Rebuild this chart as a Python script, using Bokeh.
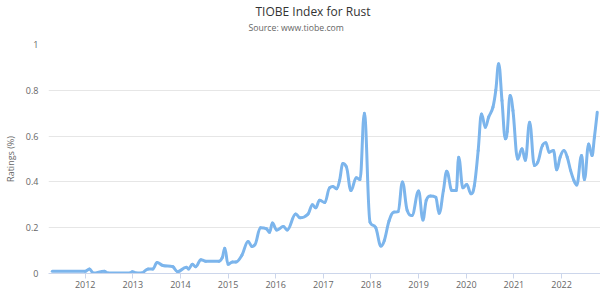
from bokeh.plotting import figure
from bokeh.models import Range1d, FixedTicker, Title, ColumnDataSource
from bokeh.embed import file_html
from bokeh.resources import INLINE

# Decimal-year dates and TIOBE ratings (%)
dates = [2011.31, 2012.00, 2012.09, 2012.17, 2012.40, 2012.48, 2012.94, 2012.99,
         2013.08, 2013.18, 2013.32, 2013.42, 2013.51, 2013.63, 2013.84, 2013.94,
         2014.12, 2014.17, 2014.25, 2014.32, 2014.43, 2014.53, 2014.81, 2014.88,
         2014.93, 2015.00, 2015.09, 2015.16, 2015.29, 2015.42, 2015.50, 2015.56,
         2015.68, 2015.81, 2015.87, 2015.93, 2016.02, 2016.16, 2016.24, 2016.42,
         2016.51, 2016.68, 2016.77, 2016.84, 2016.92, 2017.03, 2017.13, 2017.20,
         2017.28, 2017.34, 2017.41, 2017.48, 2017.58, 2017.69, 2017.77, 2017.86,
         2017.98, 2018.10, 2018.21, 2018.28, 2018.38, 2018.48, 2018.57, 2018.66,
         2018.76, 2018.86, 2019.00, 2019.09, 2019.16, 2019.25, 2019.36, 2019.43,
         2019.52, 2019.59, 2019.70, 2019.79, 2019.84, 2019.93, 2020.01, 2020.10,
         2020.17, 2020.25, 2020.32, 2020.40, 2020.47, 2020.56, 2020.62, 2020.68,
         2020.75, 2020.82, 2020.86, 2020.92, 2020.98, 2021.08, 2021.17, 2021.24,
         2021.33, 2021.43, 2021.50, 2021.60, 2021.67, 2021.74, 2021.83, 2021.90,
         2021.97, 2022.05, 2022.12, 2022.19, 2022.26, 2022.32, 2022.42, 2022.48,
         2022.57, 2022.64, 2022.69, 2022.75]
ratings = [0.010, 0.010, 0.020, 0.002, 0.010, 0.002, 0.002, 0.008,
           0.002, 0.002, 0.020, 0.020, 0.048, 0.035, 0.030, 0.008,
           0.027, 0.020, 0.040, 0.030, 0.060, 0.054, 0.054, 0.070,
           0.110, 0.040, 0.050, 0.050, 0.080, 0.140, 0.118, 0.125,
           0.200, 0.195, 0.180, 0.220, 0.190, 0.205, 0.190, 0.260,
           0.243, 0.260, 0.300, 0.287, 0.320, 0.310, 0.374, 0.380,
           0.370, 0.406, 0.480, 0.467, 0.362, 0.418, 0.410, 0.700,
           0.224, 0.200, 0.120, 0.144, 0.230, 0.268, 0.270, 0.400,
           0.275, 0.253, 0.360, 0.234, 0.320, 0.338, 0.333, 0.263,
           0.362, 0.447, 0.362, 0.362, 0.508, 0.374, 0.389, 0.348,
           0.384, 0.537, 0.697, 0.639, 0.683, 0.726, 0.800, 0.916,
           0.755, 0.588, 0.620, 0.777, 0.712, 0.500, 0.545, 0.494,
           0.660, 0.472, 0.486, 0.559, 0.571, 0.530, 0.537, 0.453,
           0.508, 0.537, 0.508, 0.450, 0.406, 0.387, 0.515, 0.410,
           0.566, 0.515, 0.595, 0.704]

year_ticks = list(range(2012, 2023))
rating_ticks = [0, 0.2, 0.4, 0.6, 0.8, 1]
rating_labels = ["0", "0.2", "0.4", "0.6", "0.8", "1"]
title_text = "TIOBE Index for Rust"
subtitle_text = "Source: www.tiobe.com"
y_title = "Ratings (%)"

FONT = "Open Sans"


def spline_segments(xs, ys, smoothing=1.5):
    """Cubic spline segments (Highcharts-style control points) from the data."""
    n = len(xs)
    denom = smoothing + 1
    lcx, lcy = list(xs), list(ys)
    rcx, rcy = list(xs), list(ys)
    for i in range(1, n - 1):
        px, py = xs[i], ys[i]
        lx, ly = xs[i - 1], ys[i - 1]
        nx, ny = xs[i + 1], ys[i + 1]
        lcx_i = (smoothing * px + lx) / denom
        lcy_i = (smoothing * py + ly) / denom
        rcx_i = (smoothing * px + nx) / denom
        rcy_i = (smoothing * py + ny) / denom
        if rcx_i != lcx_i:
            corr = (rcy_i - lcy_i) * (rcx_i - px) / (rcx_i - lcx_i) + py - rcy_i
            lcy_i += corr
            rcy_i += corr
            if lcy_i > ly and lcy_i > py:
                lcy_i = max(ly, py)
                rcy_i = 2 * py - lcy_i
            elif lcy_i < ly and lcy_i < py:
                lcy_i = min(ly, py)
                rcy_i = 2 * py - lcy_i
            if rcy_i > ny and rcy_i > py:
                rcy_i = max(ny, py)
                lcy_i = 2 * py - rcy_i
            elif rcy_i < ny and rcy_i < py:
                rcy_i = min(ny, py)
                lcy_i = 2 * py - rcy_i
        lcx[i], lcy[i], rcx[i], rcy[i] = lcx_i, lcy_i, rcx_i, rcy_i
    return dict(x0=xs[:-1], y0=ys[:-1], x1=xs[1:], y1=ys[1:],
                cx0=rcx[:-1], cy0=rcy[:-1], cx1=lcx[1:], cy1=lcy[1:])


p = figure(width=600, height=291, output_backend="svg", toolbar_location=None,
           x_range=Range1d(2011.23, 2022.818), y_range=Range1d(0, 1),
           min_border_left=43, min_border_right=0, min_border_top=44,
           min_border_bottom=18)
p.outline_line_color = None
p.background_fill_color = "white"
p.border_fill_color = "white"

src = ColumnDataSource(spline_segments(dates, ratings))
p.bezier(x0="x0", y0="y0", x1="x1", y1="y1", cx0="cx0", cy0="cy0",
         cx1="cx1", cy1="cy1", source=src, line_color="#7cb5ec",
         line_width=3, line_cap="round")

# x axis
xa = p.xaxis[0]
xa.ticker = FixedTicker(ticks=year_ticks)
xa.axis_line_color = "#ccd6eb"
xa.major_tick_line_color = "#ccd6eb"
xa.major_tick_in = 0
xa.major_tick_out = 5
xa.minor_tick_line_color = None
xa.major_label_standoff = 2
xa.major_label_text_font = FONT
xa.major_label_text_font_size = "9px"
xa.major_label_text_color = "#666666"

# y axis
ya = p.yaxis[0]
ya.ticker = FixedTicker(ticks=rating_ticks)
ya.major_label_overrides = {t: l for t, l in zip(rating_ticks, rating_labels)}
ya.axis_line_color = None
ya.major_tick_line_color = None
ya.minor_tick_line_color = None
ya.major_tick_out = 0
ya.major_tick_in = 0
ya.major_label_standoff = 10
ya.major_label_text_font = FONT
ya.major_label_text_font_size = "9px"
ya.major_label_text_color = "#666666"
ya.axis_label = y_title
ya.axis_label_text_font = FONT
ya.axis_label_text_font_size = "9px"
ya.axis_label_text_font_style = "normal"
ya.axis_label_text_color = "#666666"
ya.axis_label_standoff = 6

p.xgrid.grid_line_color = None
p.ygrid.ticker = FixedTicker(ticks=rating_ticks)
p.ygrid.grid_line_color = "#e6e6e6"

# titles
sub = Title(text=subtitle_text, align="left", offset=200, standoff=22,
            vertical_align="bottom", text_font=FONT, text_font_size="8.7px",
            text_font_style="normal", text_color="#666666")
ttl = Title(text=title_text, align="left", offset=207, standoff=-22,
            vertical_align="bottom", text_font=FONT, text_font_size="12px",
            text_font_style="normal", text_color="#333333")
p.add_layout(sub, "above")
p.add_layout(ttl, "above")

open("out.html", "w").write(file_html(p, INLINE))
